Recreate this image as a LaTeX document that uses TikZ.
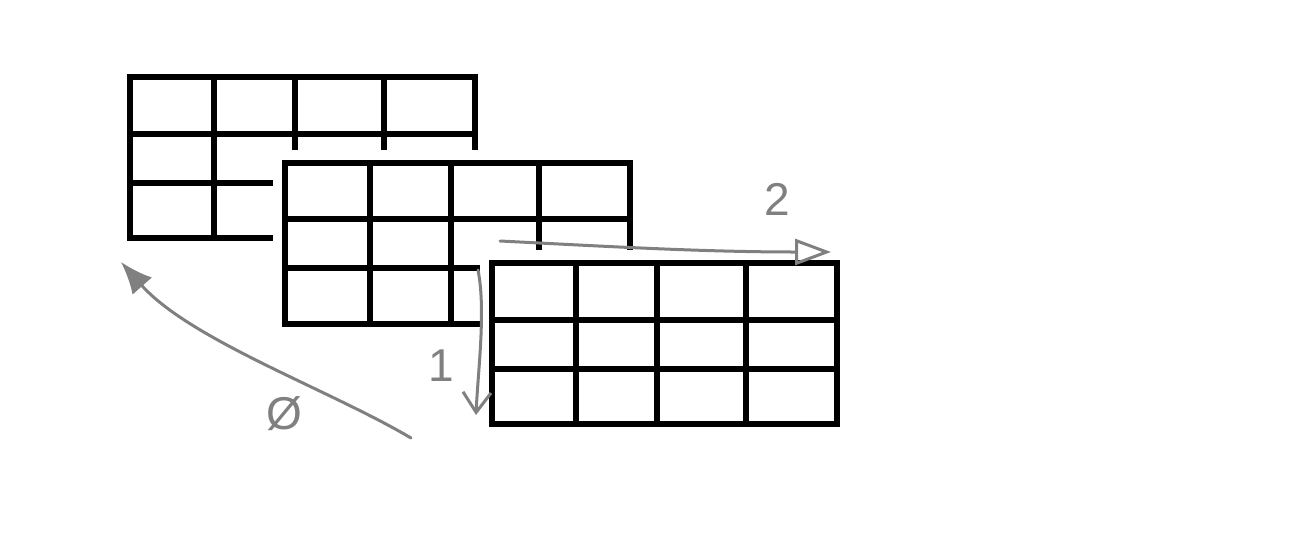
\documentclass[tikz,border=0pt]{standalone}
\usepackage{fontspec}
\setmainfont{Liberation Sans}
\usetikzlibrary{arrows.meta}
\definecolor{pen}{HTML}{808080}
\begin{document}
\begin{tikzpicture}[x=1pt,y=-1pt,
  gridline/.style={line width=5.5pt, line join=miter, black},
  cover/.style={fill=white, draw=none},
  penline/.style={draw=pen, line width=3pt, line cap=round},
  penlabel/.style={text=pen, font=\fontsize{46}{46}\selectfont, inner sep=0pt}]
\useasboundingbox[fill=white] (0,0) rectangle (1308,544);
% grid 1 (back)
\draw[gridline] (130,77) rectangle (475,238);
\foreach \x in {214,295,384} \draw[gridline] (\x,77) -- (\x,238);
\foreach \y in {134,183} \draw[gridline] (130,\y) -- (475,\y);
\fill[cover] (273,150) rectangle (900,470);
% grid 2 (middle)
\draw[gridline] (285,163) rectangle (630,324);
\foreach \x in {370,451,539} \draw[gridline] (\x,163) -- (\x,324);
\foreach \y in {219,268} \draw[gridline] (285,\y) -- (630,\y);
\fill[cover] (480,250) rectangle (900,470);
% grid 3 (front)
\draw[gridline] (492,263) rectangle (837,424);
\foreach \x in {576,657,746} \draw[gridline] (\x,263) -- (\x,424);
\foreach \y in {320,369} \draw[gridline] (492,\y) -- (837,\y);
% arrow ends
\coordinate (a0s) at (411,438);
\coordinate (a0e) at (121,262);
\coordinate (a1s) at (478,270);
\coordinate (a1e) at (476,415);
\coordinate (a2s) at (500,241);
\coordinate (a2e) at (831,252);
% arrows
\draw[penline, -{Latex[length=32pt,width=26pt]}] (a0s) .. controls (330,390) and (190,340) .. (a0e);
\draw[penline, -{Straight Barb[length=20pt,width=28pt,line width=3pt]}] (a1s) .. controls (486,310) and (478,370) .. (a1e);
\draw[penline, -{Triangle[open,length=36pt,width=26pt,line width=3pt]}] (a2s) .. controls (600,246) and (700,252) .. (a2e);
% labels
\node[penlabel] (l0) at (284,414) {Ø};
\node[penlabel] (l1) at (441,366) {1};
\node[penlabel] (l2) at (777,199) {2};
\end{tikzpicture}
\end{document}
